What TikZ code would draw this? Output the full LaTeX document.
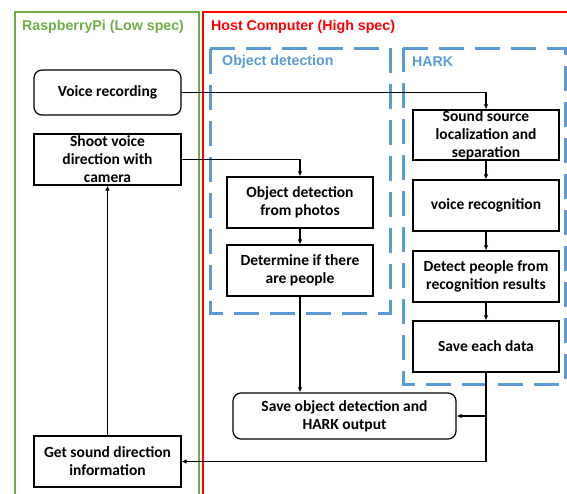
\documentclass[tikz,border=0pt]{standalone}
\usepackage{fontspec}
\setmainfont{Carlito}
\newfontfamily\titlefont{Liberation Sans}
\usepackage{tikz}
\usetikzlibrary{calc}
\usetikzlibrary{positioning}
\usetikzlibrary{arrows.meta}
\definecolor{pigreen}{RGB}{112,173,71}
\definecolor{hostred}{RGB}{255,0,0}
\definecolor{groupblue}{RGB}{91,155,213}

\begin{document}
\begin{tikzpicture}[x=1pt,y=-1pt,
                    box/.style={draw,line width=1.2pt,minimum width=146pt,minimum height=51pt,
                                inner sep=0pt,align=center,font=\bfseries\fontsize{15.5}{18}\selectfont},
                    roundbox/.style={box,rounded corners=8pt},
                    arr/.style={line width=1.1pt,-{Latex[length=5pt,width=4.5pt]}},
                    group/.style={groupblue,line width=3pt,dash pattern=on 25pt off 11pt},
                    title/.style={anchor=west,inner sep=0pt,font=\titlefont\bfseries\fontsize{14.2}{17}\selectfont}]
 \useasboundingbox (0,0) rectangle (567,493);
 \clip (0,0) rectangle (567,493);
 \fill[white] (0,0) rectangle (567,493);
 \draw[pigreen,line width=2pt] (15,510) -- (15,12) -- (199,12) -- (199,510);
 \draw[hostred,line width=2pt] (203,510) -- (203,12) -- (580,12);
 \node[title,text=pigreen] (pititle) at (22,27) {RaspberryPi (Low spec)};
 \node[title,text=hostred] (hosttitle) at (211,27) {Host Computer (High spec)};
 \draw[group] (210,48) -- (390,48) -- (390,313) -- (210,313) -- cycle;
 \draw[group] (403,48) -- (565,48) -- (565,384) -- (403,384) -- cycle;
 \node[title,text=groupblue] (odtitle) at (222,62) {Object detection};
 \node[title,text=groupblue] (harktitle) at (412,62) {HARK};

 \node[roundbox,minimum width=147pt,minimum height=45pt] (voice) at (107.5,92.5) {Voice recording};
 \node[box,minimum width=147pt] (shoot) at (107.5,159.5) {Shoot voice\\direction with\\camera};
 \node[box,minimum width=147pt] (getdir) at (107.5,461.5) {Get sound direction\\information};
 \node[box] (objdet) at (300,202.5) {Object detection\\from photos};
 \node[box] (determine) at (300,270.5) {Determine if there\\are people};
 \node[roundbox,minimum width=223pt,minimum height=46pt] (saveall) at (344.5,416) {Save object detection and\\HARK output};
 \node[box,minimum height=50pt] (ssl) at (486,135) {Sound source\\localization and\\separation};
 \node[box] (vrec) at (486,205.5) {voice recognition};
 \node[box] (detect) at (486,276.5) {Detect people from\\recognition results};
 \node[box] (saveeach) at (486,346.5) {Save each data};

 \coordinate (corner) at (saveeach.south |- getdir.east);
 \draw[arr] (voice.east) -| (ssl.north);
 \draw[arr] (shoot.east) -| (objdet.north);
 \draw[arr] (objdet) -- (determine);
 \draw[arr] (determine.south) -- (determine.south |- saveall.north);
 \draw[arr] (ssl) -- (vrec);
 \draw[arr] (vrec) -- (detect);
 \draw[arr] (detect) -- (saveeach);
 \draw[arr] (saveeach.south) |- (saveall.east);
 \draw[arr] (saveeach.south) -- (corner) -- (getdir.east);
 \draw[arr] (getdir.north) -- (shoot.south);
\end{tikzpicture}
\end{document}
